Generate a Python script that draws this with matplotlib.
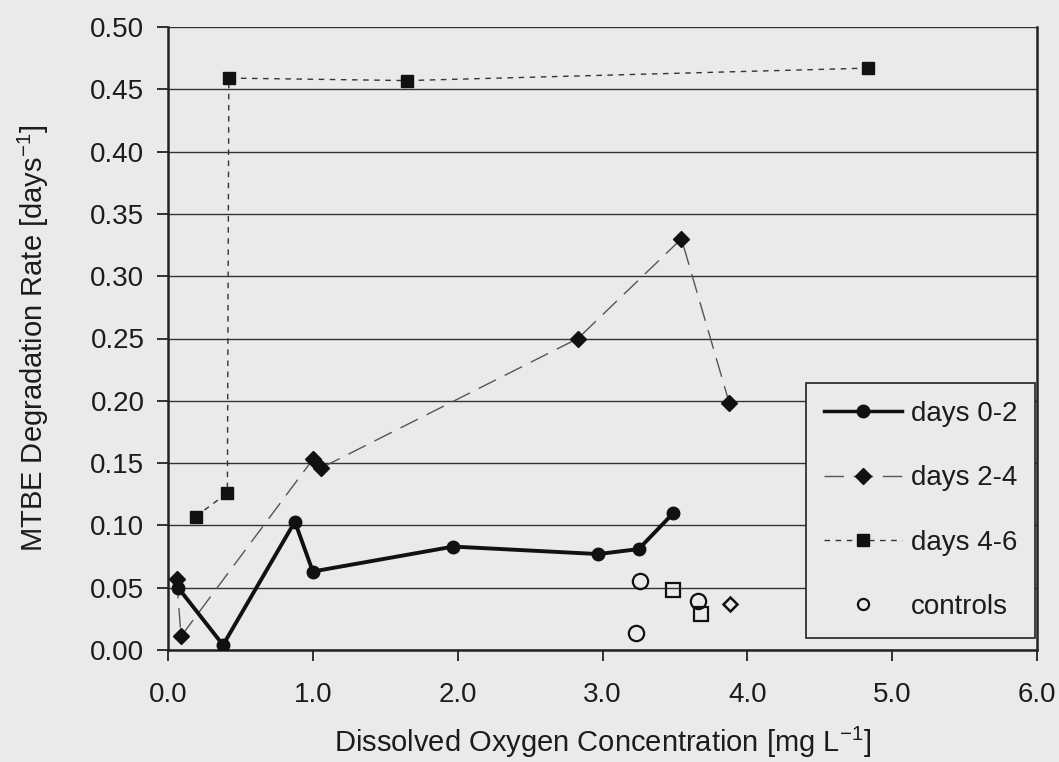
import matplotlib
matplotlib.use("Agg")
import matplotlib.pyplot as plt
from matplotlib.lines import Line2D

# Data
do_0_2 = [0.07, 0.38, 0.876, 1.0, 1.97, 2.97, 3.25, 3.49]
rate_0_2 = [0.050, 0.004, 0.103, 0.063, 0.083, 0.077, 0.081, 0.110]

do_2_4 = [0.06, 0.09, 1.0, 1.055, 2.83, 3.545, 3.876]
rate_2_4 = [0.057, 0.011, 0.153, 0.146, 0.250, 0.330, 0.198]

do_4_6 = [0.19, 0.41, 0.42, 1.65, 4.83]
rate_4_6 = [0.107, 0.126, 0.459, 0.457, 0.467]

ctrl_circ_do = [3.26, 3.23, 3.66]
ctrl_circ_rate = [0.055, 0.014, 0.039]
ctrl_sq_do = [3.49, 3.68]
ctrl_sq_rate = [0.048, 0.029]
ctrl_dia_do = [3.88]
ctrl_dia_rate = [0.037]

xticks = [0.0, 1.0, 2.0, 3.0, 4.0, 5.0, 6.0]
yticks = [0.00, 0.05, 0.10, 0.15, 0.20, 0.25, 0.30, 0.35, 0.40, 0.45, 0.50]

plt.rcParams['font.family'] = ['Liberation Sans', 'DejaVu Sans']
plt.rcParams['mathtext.fontset'] = 'custom'
plt.rcParams['mathtext.rm'] = 'Liberation Sans'
plt.rcParams['mathtext.default'] = 'regular'

bg = '#eaeaea'
txt = '#1c1c1c'
fig = plt.figure(figsize=(10.59, 7.62), dpi=100, facecolor=bg)
ax = fig.add_axes([168/1059, 1-650/762, (1037-168)/1059, (650-27)/762])
ax.set_facecolor(bg)

for y in yticks:
    ax.axhline(y, color='#333333', lw=1.0, zorder=1)

ax.plot(do_2_4, rate_2_4, color='#555555', lw=1.0, dashes=(14, 7),
        marker='D', markersize=8, markerfacecolor='#111111', markeredgecolor='#111111', zorder=3)
ax.plot(do_4_6, rate_4_6, color='#333333', lw=1.0, dashes=(4, 4),
        marker='s', markersize=9, markerfacecolor='#111111', markeredgecolor='#111111', zorder=3)
ax.plot(do_0_2, rate_0_2, color='#111111', lw=2.8, linestyle='-',
        marker='o', markersize=9, markerfacecolor='#111111', markeredgecolor='#111111', zorder=4)
ax.plot(ctrl_circ_do, ctrl_circ_rate, linestyle='none', marker='o', markersize=11,
        markerfacecolor='none', markeredgecolor='#111111', markeredgewidth=1.6, zorder=4)
ax.plot(ctrl_sq_do, ctrl_sq_rate, linestyle='none', marker='s', markersize=10,
        markerfacecolor='none', markeredgecolor='#111111', markeredgewidth=1.6, zorder=4)
ax.plot(ctrl_dia_do, ctrl_dia_rate, linestyle='none', marker='D', markersize=7,
        markerfacecolor='none', markeredgecolor='#111111', markeredgewidth=1.8, zorder=4)

ax.set_xlim(0, 6)
ax.set_ylim(0, 0.5)
ax.set_xticks(xticks)
ax.set_xticklabels([f"{v:.1f}" for v in xticks])
ax.set_yticks(yticks)
ax.set_yticklabels([f"{v:.2f}" for v in yticks])
ax.tick_params(axis='both', direction='out', length=8, width=1.2, colors='#111111',
               labelcolor=txt, labelsize=20)
ax.tick_params(axis='y', pad=9)
ax.tick_params(axis='x', pad=15)

for s in ['left', 'bottom', 'right']:
    ax.spines[s].set_color('#222222')
    ax.spines[s].set_linewidth(1.8)
ax.spines['top'].set_visible(False)

ax.set_xlabel('Dissolved Oxygen Concentration [mg L$^{-1}$]', fontsize=21, color=txt, labelpad=12)
ax.set_ylabel('MTBE Degradation Rate [days$^{-1}$]', fontsize=21, color=txt, labelpad=28)

handles = [
    Line2D([], [], color='#111111', lw=2.5, marker='o', markersize=9),
    Line2D([], [], color='#555555', lw=1.0, dashes=(14, 7), marker='D', markersize=8,
           markerfacecolor='#111111', markeredgecolor='#111111'),
    Line2D([], [], color='#333333', lw=1.0, dashes=(4, 4), marker='s', markersize=9,
           markerfacecolor='#111111', markeredgecolor='#111111'),
    Line2D([], [], linestyle='none', marker='o', markersize=8, markerfacecolor='none',
           markeredgecolor='#111111', markeredgewidth=1.6),
]
labels = ['days 0-2', 'days 2-4', 'days 4-6', 'controls']
leg = ax.legend(handles, labels, loc='lower right', bbox_to_anchor=(1.0 - 2/869, 12/623),
                fontsize=20, frameon=True, fancybox=False, framealpha=1.0,
                facecolor=bg, edgecolor='#222222', borderaxespad=0, handlelength=2.8,
                labelspacing=1.38, borderpad=0.65, handletextpad=0.3)
for t in leg.get_texts():
    t.set_color(txt)
leg.get_frame().set_linewidth(1.2)
leg.set_zorder(10)

fig.savefig('out.png', dpi=100, facecolor=bg)
